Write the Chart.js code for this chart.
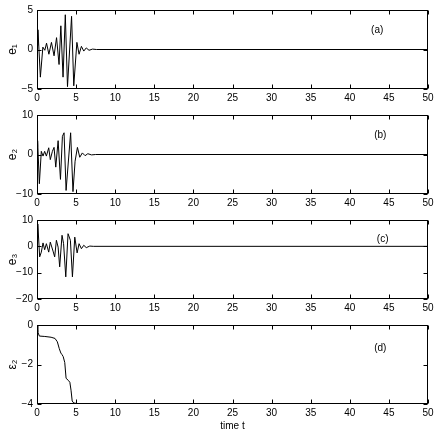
<!DOCTYPE html>
<html>
<head>
<meta charset="utf-8">
<script src="https://cdn.jsdelivr.net/npm/chart.js@4"></script>
<style>
  html, body { margin: 0; padding: 0; background: #fff; }
  #wrap { position: relative; width: 436px; height: 436px; }
  canvas { position: absolute; left: 0; }
</style>
</head>
<body>
<div id="wrap">
  <canvas id="c1" width="436" height="105" style="top:0px"></canvas>
  <canvas id="c2" width="436" height="105" style="top:105px"></canvas>
  <canvas id="c3" width="436" height="105" style="top:210px"></canvas>
  <canvas id="c4" width="436" height="121" style="top:315px"></canvas>
</div>
<script>
// === Données ===
const xTicks = [0, 5, 10, 15, 20, 25, 30, 35, 40, 45, 50];

const tE1 = [0, 0.12, 0.43, 0.75, 1.0, 1.22, 1.52, 1.85, 2.18, 2.5, 2.82, 3.05, 3.33, 3.62, 3.9, 4.42, 4.7, 5.1, 5.38, 5.68, 5.98, 6.3, 6.65, 7.1, 7.6, 50];
const e1   = [0.5, 2.5, -3.5, 0.3, -0.1, 0.8, -0.6, 0.9, -0.8, 1.5, -1.9, 3.0, -3.5, 4.4, -4.7, 4.2, -4.6, 0.9, -0.6, 0.4, -0.2, 0.2, -0.1, 0.05, 0, 0];

const tE2 = [0, 0.08, 0.3, 0.55, 0.77, 0.98, 1.2, 1.5, 1.7, 1.97, 2.18, 2.4, 2.7, 3.0, 3.25, 3.46, 3.72, 4.3, 4.6, 4.87, 5.17, 5.47, 5.8, 6.15, 6.5, 6.97, 7.5, 50];
const e2   = [2, 3.5, -7.4, 0.8, -0.4, 0.8, -0.4, 1.7, -1.3, 0.8, 1.8, -3.2, 3.5, -6.3, 4.6, 5.5, -9.1, 5.5, -9.4, -1.7, 1.8, -0.7, 0.4, -0.3, 0.2, -0.1, 0, 0];

const tE3 = [0, 0.1, 0.34, 0.55, 0.77, 0.98, 1.2, 1.5, 1.7, 2.05, 2.26, 2.48, 2.7, 2.9, 3.2, 3.4, 3.68, 3.97, 4.27, 4.53, 4.83, 5.13, 5.38, 5.68, 5.98, 6.3, 6.75, 7.2, 50];
const e3   = [3, 8.5, -4, -2.2, 1.3, -1.3, 1, -2.2, 1.6, -1.8, -4, 2.3, -0.3, -7.8, 4.2, 1, -11.6, 4.8, 2.3, -11.6, 3.5, -2.5, 1, -0.9, 0.4, -0.5, 0.1, 0, 0];

const tEps = [0, 0.1, 0.3, 1.0, 1.8, 2.3, 2.6, 2.85, 3.05, 3.2, 3.35, 3.55, 3.72, 4.0, 4.2, 4.35, 4.5, 4.7, 5.2, 50];
const eps2 = [0, -0.35, -0.56, -0.58, -0.62, -0.68, -0.85, -1.2, -1.42, -1.5, -1.6, -1.9, -2.7, -2.8, -2.9, -3.3, -3.85, -3.95, -3.98, -4.0];

const FONT = "'Liberation Sans Narrow', 'Liberation Sans', Arial, sans-serif";

// === Plugin : cadre, graduations vers l'intérieur, étiquette (a)...(d) ===
const boxPlugin = {
  id: 'boxPlugin',
  afterDraw(chart, args, opts) {
    const { ctx, chartArea: a, scales } = chart;
    const L = Math.round(a.left) + 0.5, R = Math.round(a.right) - 0.5;
    const T = Math.round(a.top) + 0.5, B = Math.round(a.bottom) - 0.5;
    ctx.save();
    ctx.strokeStyle = '#000';
    ctx.lineWidth = 1;
    ctx.beginPath();
    scales.x.ticks.forEach(t => {
      const px = Math.round(scales.x.getPixelForValue(t.value)) + 0.5;
      ctx.moveTo(px, B); ctx.lineTo(px, B - 4);
      ctx.moveTo(px, T); ctx.lineTo(px, T + 4);
    });
    scales.y.ticks.forEach(t => {
      const py = Math.round(scales.y.getPixelForValue(t.value)) + 0.5;
      ctx.moveTo(L, py); ctx.lineTo(L + 4, py);
      ctx.moveTo(R, py); ctx.lineTo(R - 4, py);
    });
    ctx.stroke();
    ctx.strokeRect(L, T, R - L, B - T);
    // étiquette du panneau
    ctx.fillStyle = '#000';
    ctx.font = '10px ' + FONT;
    ctx.textAlign = 'center';
    ctx.textBaseline = 'middle';
    ctx.fillText(opts.tag, scales.x.getPixelForValue(opts.tagX), scales.y.getPixelForValue(opts.tagY));
    ctx.restore();
  }
};

function minusSign(v) {
  return String(v).replace('-', '\u2212');
}

function makePanel(id, times, values, yMin, yMax, yStep, yTitle, tag, tagX, tagY, xTitle) {
  const canvas = document.getElementById(id);
  const H = canvas.height;
  return new Chart(canvas.getContext('2d'), {
    type: 'line',
    data: {
      datasets: [{
        data: times.map((t, i) => ({ x: t, y: values[i] })),
        borderColor: '#000',
        borderWidth: 1,
        pointRadius: 0,
        tension: 0,
        fill: false
      }]
    },
    plugins: [boxPlugin],
    options: {
      responsive: false,
      animation: false,
      devicePixelRatio: 1,
      layout: { padding: { top: 10, right: 8, bottom: 0, left: 0 } },
      plugins: {
        legend: { display: false },
        tooltip: { enabled: false },
        boxPlugin: { tag, tagX, tagY }
      },
      scales: {
        x: {
          type: 'linear',
          min: 0, max: 50,
          afterBuildTicks: s => { s.ticks = xTicks.map(v => ({ value: v })); },
          grid: { display: false, drawTicks: false },
          border: { display: false },
          ticks: { color: '#000', padding: 3, maxRotation: 0, font: { family: FONT, size: 10 }, callback: v => minusSign(v) },
          title: {
            display: !!xTitle, text: xTitle || '', color: '#000',
            font: { family: FONT, size: 10 }, padding: { top: 0, bottom: 4 }
          },
          afterFit: s => { s.height = H - 89; s.paddingLeft = 0; s.paddingRight = 0; }
        },
        y: {
          min: yMin, max: yMax,
          grid: { display: false, drawTicks: false },
          border: { display: false },
          ticks: { color: '#000', padding: 4, stepSize: yStep, font: { family: FONT, size: 10 }, callback: v => minusSign(v) },
          title: {
            display: true, text: yTitle, color: '#000',
            font: { family: FONT, size: 12 }, padding: { top: 5, bottom: 0 }
          },
          afterFit: s => { s.width = 37; s.paddingTop = 0; s.paddingBottom = 0; }
        }
      }
    }
  });
}

makePanel('c1', tE1, e1, -5, 5, 5, 'e\u2081', '(a)', 43.5, 2.5);
makePanel('c2', tE2, e2, -10, 10, 10, 'e\u2082', '(b)', 43.9, 5);
makePanel('c3', tE3, e3, -20, 10, 10, 'e\u2083', '(c)', 44.2, 2.6);
makePanel('c4', tEps, eps2, -4, 0, 2, '\u03b5\u2082', '(d)', 43.9, -1.2, 'time t');
</script>
</body>
</html>
